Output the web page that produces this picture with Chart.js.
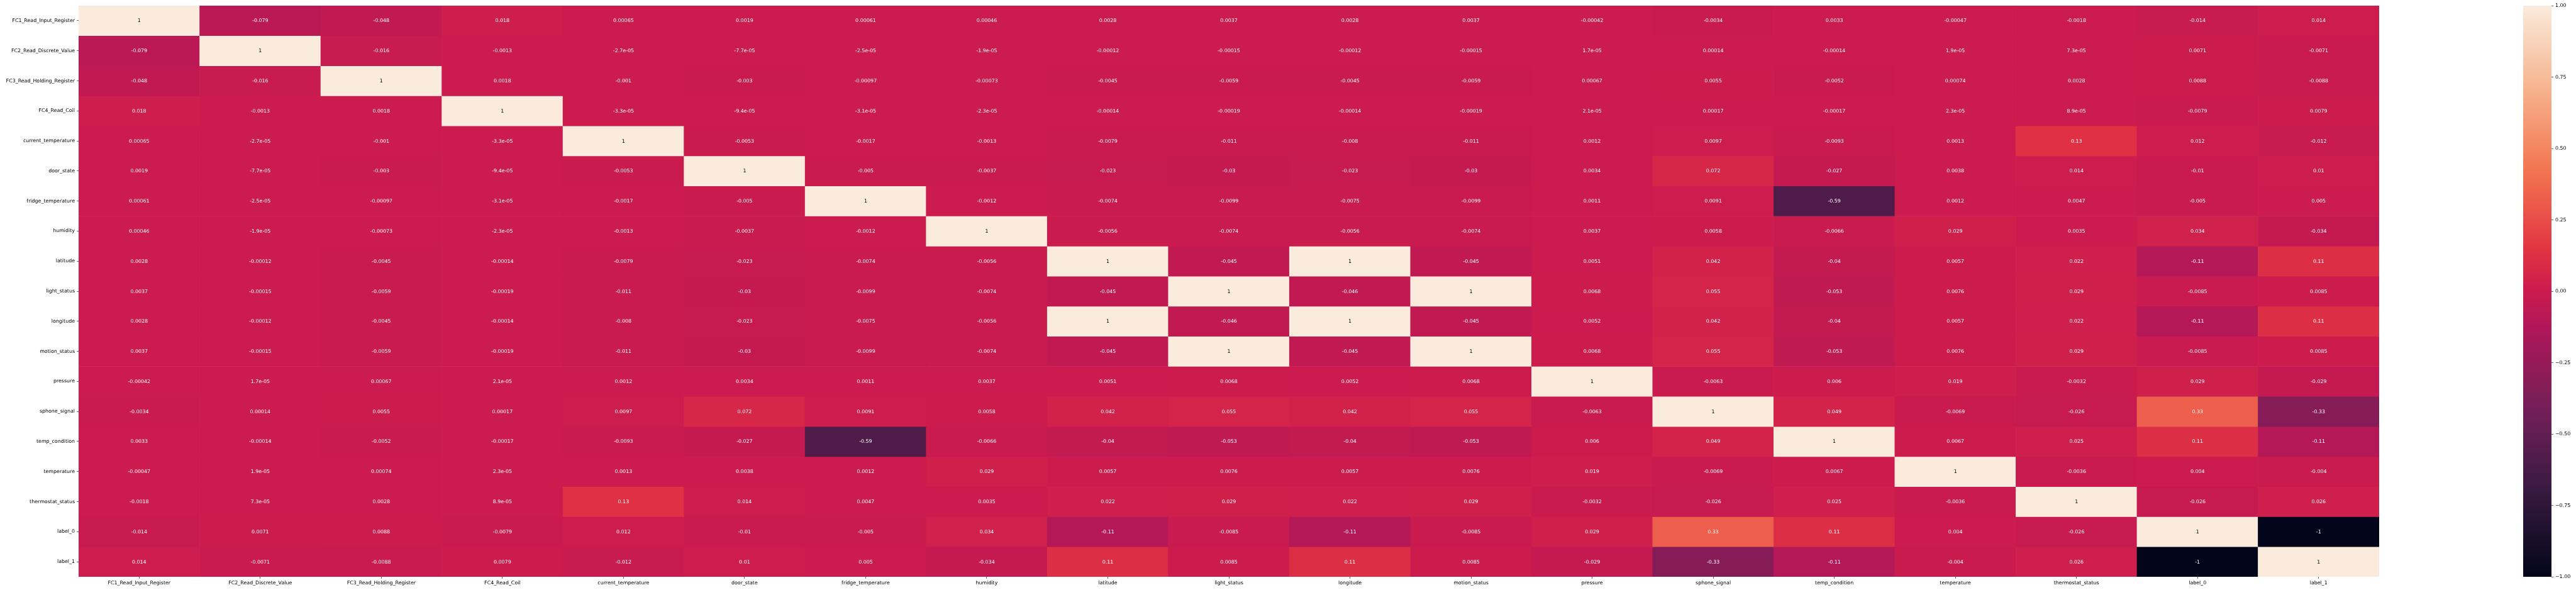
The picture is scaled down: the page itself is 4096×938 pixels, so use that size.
<!DOCTYPE html>
<html>

<head>
    <meta charset="utf-8" />
    <title>Feature correlation heatmap</title>
    <script src="https://cdn.jsdelivr.net/npm/chart.js"></script>
    <style>
        html, body { margin: 0; padding: 0; background: #fff; }
        body { width: 4096px; height: 938px; position: relative; overflow: hidden; }
        #heatBox { position: absolute; left: 0; top: 0; width: 3790px; height: 938px; }
        #barBox { position: absolute; left: 4012px; top: 0; width: 84px; height: 938px; }
    </style>
</head>

<body>
    <div id="heatBox"><canvas id="heatmap"></canvas></div>
    <div id="barBox"><canvas id="colorbar"></canvas></div>

    <script type="text/javascript">

        // feature names, same order on both axes
        const features = [
            "FC1_Read_Input_Register", "FC2_Read_Discrete_Value", "FC3_Read_Holding_Register",
            "FC4_Read_Coil", "current_temperature", "door_state", "fridge_temperature",
            "humidity", "latitude", "light_status", "longitude", "motion_status", "pressure",
            "sphone_signal", "temp_condition", "temperature", "thermostat_status",
            "label_0", "label_1"
        ];

        // lower triangle of the correlation matrix (row i, columns 0..i)
        const lowerRows = [
            [1],
            [-0.079, 1],
            [-0.048, -0.016, 1],
            [0.018, -0.0013, 0.0018, 1],
            [0.00065, -2.7e-05, -0.001, -3.3e-05, 1],
            [0.0019, -7.7e-05, -0.003, -9.4e-05, -0.0053, 1],
            [0.00061, -2.5e-05, -0.00097, -3.1e-05, -0.0017, -0.005, 1],
            [0.00046, -1.9e-05, -0.00073, -2.3e-05, -0.0013, -0.0037, -0.0012, 1],
            [0.0028, -0.00012, -0.0045, -0.00014, -0.0079, -0.023, -0.0074, -0.0056, 1],
            [0.0037, -0.00015, -0.0059, -0.00019, -0.011, -0.03, -0.0099, -0.0074, -0.045, 1],
            [0.0028, -0.00012, -0.0045, -0.00014, -0.008, -0.023, -0.0075, -0.0056, 1, -0.046, 1],
            [0.0037, -0.00015, -0.0059, -0.00019, -0.011, -0.03, -0.0099, -0.0074, -0.045, 1, -0.045, 1],
            [-0.00042, 1.7e-05, 0.00067, 2.1e-05, 0.0012, 0.0034, 0.0011, 0.0037, 0.0051, 0.0068, 0.0052, 0.0068, 1],
            [-0.0034, 0.00014, 0.0055, 0.00017, 0.0097, 0.072, 0.0091, 0.0058, 0.042, 0.055, 0.042, 0.055, -0.0063, 1],
            [0.0033, -0.00014, -0.0052, -0.00017, -0.0093, -0.027, -0.59, -0.0066, -0.04, -0.053, -0.04, -0.053, 0.006, 0.049, 1],
            [-0.00047, 1.9e-05, 0.00074, 2.3e-05, 0.0013, 0.0038, 0.0012, 0.029, 0.0057, 0.0076, 0.0057, 0.0076, 0.019, -0.0069, 0.0067, 1],
            [-0.0018, 7.3e-05, 0.0028, 8.9e-05, 0.13, 0.014, 0.0047, 0.0035, 0.022, 0.029, 0.022, 0.029, -0.0032, -0.026, 0.025, -0.0036, 1],
            [-0.014, 0.0071, 0.0088, -0.0079, 0.012, -0.01, -0.005, 0.034, -0.11, -0.0085, -0.11, -0.0085, 0.029, 0.33, 0.11, 0.004, -0.026, 1],
            [0.014, -0.0071, -0.0088, 0.0079, -0.012, 0.01, 0.005, -0.034, 0.11, 0.0085, 0.11, 0.0085, -0.029, -0.33, -0.11, -0.004, 0.026, -1, 1]
        ];

        // colorbar tick values
        const colorbarTicks = [-1, -0.75, -0.5, -0.25, 0, 0.25, 0.5, 0.75, 1];

        // seaborn "rocket" colormap stops
        const rocketPos = [0, 0.143, 0.286, 0.429, 0.5, 0.571, 0.714, 0.857, 1];
        const rocketHex = ["#03051a", "#35193e", "#701f57", "#ad1759", "#cb1b4f", "#e13342", "#f37651", "#f6b48f", "#faebdd"];

        // full symmetric matrix from the lower triangle
        const corr = features.map((_, i) => features.map((_, j) => i >= j ? lowerRows[i][j] : lowerRows[j][i]));

        const hexToRgb = h => [1, 3, 5].map(k => parseInt(h.substr(k, 2), 16));
        const rocketRgb = rocketHex.map(hexToRgb);

        // value in [-1, 1] -> rgb array
        const rocket = v => {
            const t = Math.min(1, Math.max(0, (v + 1) / 2));
            let k = 0;
            while (k < rocketPos.length - 2 && t > rocketPos[k + 1]) k++;
            const f = (t - rocketPos[k]) / (rocketPos[k + 1] - rocketPos[k]);
            return rocketRgb[k].map((c, n) => Math.round(c + (rocketRgb[k + 1][n] - c) * f));
        };
        const rgbStr = c => `rgb(${c[0]},${c[1]},${c[2]})`;

        // same rule seaborn uses for annotation colour
        const textColor = v => {
            const lin = rocket(v).map(c => {
                c = c / 255;
                return c <= 0.03928 ? c / 12.92 : Math.pow((c + 0.055) / 1.055, 2.4);
            });
            const lum = 0.2126 * lin[0] + 0.7152 * lin[1] + 0.0722 * lin[2];
            return lum > 0.408 ? "#000" : "#fff";
        };

        // python style '.2g'
        const fmt2g = v => {
            if (v === 0) return "0";
            const parts = v.toExponential(1).split("e");
            const exp = parseInt(parts[1], 10);
            if (exp < -4 || exp >= 2) {
                const m = parts[0].replace(/\.0$/, "");
                return m + "e" + (exp < 0 ? "-" : "+") + String(Math.abs(exp)).padStart(2, "0");
            }
            return String(parseFloat(v.toFixed(Math.max(0, 1 - exp))));
        };

        Chart.defaults.font.family = '"DejaVu Sans"';
        Chart.defaults.font.size = 7.9;
        Chart.defaults.color = "#000";

        //writes the value in the middle of every cell
        const cellText = {
            id: "cellText",
            afterDatasetsDraw(chart) {
                const ctx = chart.ctx;
                ctx.save();
                ctx.font = '7.9px "DejaVu Sans"';
                ctx.textAlign = "center";
                ctx.textBaseline = "middle";
                chart.data.datasets.forEach((ds, i) => {
                    chart.getDatasetMeta(i).data.forEach((bar, j) => {
                        const v = corr[i][j];
                        ctx.fillStyle = textColor(v);
                        ctx.fillText(fmt2g(v), bar.x, (bar.y + bar.base) / 2 + 0.5);
                    });
                });
                ctx.restore();
            }
        };

        // one dataset per row, floating bars spanning [row, row + 1]
        const rowSets = features.map((name, i) => ({
            label: name,
            data: features.map(() => [i, i + 1]),
            backgroundColor: corr[i].map(v => rgbStr(rocket(v))),
            borderWidth: 0,
            barPercentage: 1,
            categoryPercentage: 1,
            grouped: false
        }));

        new Chart(document.getElementById("heatmap"), {
            type: "bar",
            data: { labels: features, datasets: rowSets },
            plugins: [cellText],
            options: {
                responsive: true,
                maintainAspectRatio: false,
                animation: false,
                layout: { padding: { top: 9, right: 7, bottom: 0, left: 0 } },
                plugins: { legend: { display: false }, tooltip: { enabled: false } },
                scales: {
                    x: {
                        type: "category",
                        grid: { display: true, drawOnChartArea: false, offset: false, tickLength: 3, tickColor: "#000", tickWidth: 0.6 },
                        border: { display: false },
                        ticks: { autoSkip: false, maxRotation: 0, minRotation: 0, padding: 2 },
                        afterFit: s => { s.height = 21; }
                    },
                    y: {
                        type: "linear",
                        min: 0,
                        max: features.length,
                        reverse: true,
                        grid: { display: true, drawOnChartArea: false, tickLength: 3, tickColor: "#000", tickWidth: 0.6 },
                        border: { display: false },
                        afterBuildTicks: s => { s.ticks = features.map((_, i) => ({ value: i + 0.5 })); },
                        ticks: { autoSkip: false, padding: 3, callback: v => features[Math.floor(v)] },
                        afterFit: s => { s.width = 125; }
                    }
                }
            }
        });

        // colorbar: one floating bar filled with the colormap gradient
        new Chart(document.getElementById("colorbar"), {
            type: "bar",
            data: {
                labels: [""],
                datasets: [{
                    data: [[-1, 1]],
                    borderWidth: 0,
                    barPercentage: 1,
                    categoryPercentage: 1,
                    inflateAmount: 0,
                    backgroundColor: context => {
                        const { ctx, chartArea } = context.chart;
                        if (!chartArea) return null;
                        const g = ctx.createLinearGradient(0, chartArea.bottom, 0, chartArea.top);
                        for (let k = 0; k <= 64; k++) g.addColorStop(k / 64, rgbStr(rocket(-1 + 2 * k / 64)));
                        return g;
                    }
                }]
            },
            options: {
                responsive: true,
                maintainAspectRatio: false,
                animation: false,
                layout: { padding: { top: 9, right: 0, bottom: 21, left: 0 } },
                plugins: { legend: { display: false }, tooltip: { enabled: false } },
                scales: {
                    x: { display: false },
                    y: {
                        position: "right",
                        min: -1,
                        max: 1,
                        grid: { display: true, drawOnChartArea: false, tickLength: 3, tickColor: "#000", tickWidth: 0.6 },
                        border: { display: false },
                        afterBuildTicks: s => { s.ticks = colorbarTicks.map(v => ({ value: v })); },
                        ticks: { padding: 3, callback: v => (v < 0 ? "\u2212" : "") + Math.abs(v).toFixed(2) },
                        afterFit: s => { s.width = 39; }
                    }
                }
            }
        });

    </script>

</body>

</html>
